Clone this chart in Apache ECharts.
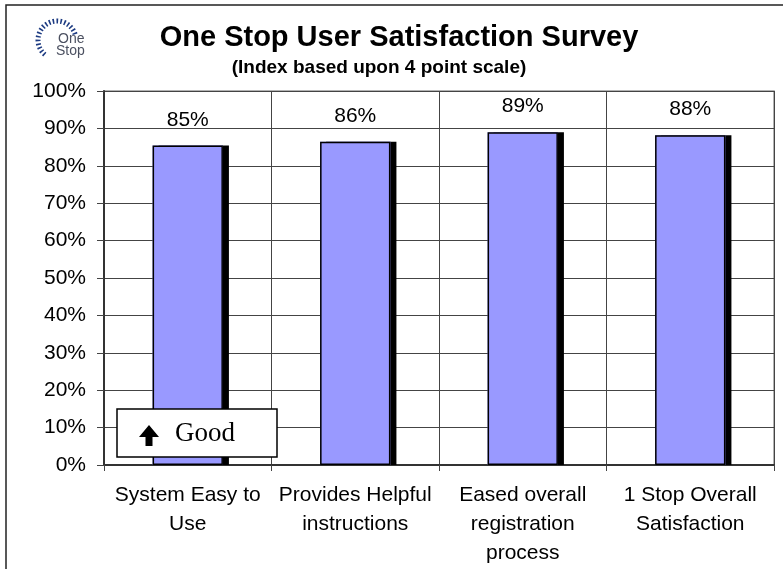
<!DOCTYPE html>
<html>
<head>
<meta charset="utf-8">
<script src="https://cdn.jsdelivr.net/npm/echarts@6/dist/echarts.min.js"></script>
<style>
	html, body { margin: 0; padding: 0; background: #fff; }
	#chart { width: 783px; height: 569px; }
</style>
</head>
<body>
<div id="chart"></div>
<script>
// 数据
var categories = ['System Easy to\nUse', 'Provides Helpful\ninstructions', 'Eased overall\nregistration\nprocess', '1 Stop Overall\nSatisfaction'];
var satisfaction = [85.4, 86.4, 89.0, 88.2];
var titleText = 'One Stop User Satisfaction Survey';
var subtitleText = '(Index based upon 4 point scale)';
var noteText = 'Good';

var FONT = '"Liberation Sans", Arial, sans-serif';

surveyChart();

/**
 * 柱状图
 */
function surveyChart() {
	var myChart = echarts.init(document.getElementById('chart'));
	var option = {
		backgroundColor: '#fff',
		animation: false,
		title: [
			{
				text: titleText,
				left: 394,
				top: 18,
				textAlign: 'center',
				textStyle: { fontFamily: FONT, fontSize: 29, fontWeight: 'bold', color: '#000' }
			},
			{
				text: subtitleText,
				left: 374,
				top: 53,
				textAlign: 'center',
				textStyle: { fontFamily: FONT, fontSize: 19, fontWeight: 'bold', color: '#000' }
			}
		],
		grid: {
			left: 104,
			right: 9,
			top: 91,
			bottom: 104,
			show: true,
			borderColor: '#999',
			borderWidth: 1.5
		},
		xAxis: {
			type: 'category',
			data: categories,
			axisLine: { lineStyle: { color: '#333', width: 2 } },
			axisTick: { show: true, length: 6, lineStyle: { color: '#444' } },
			splitLine: { show: true, lineStyle: { color: '#444', width: 1 } },
			axisLabel: {
				interval: 0,
				margin: 16,
				fontFamily: FONT,
				fontSize: 21,
				lineHeight: 29,
				color: '#000'
			}
		},
		yAxis: {
			type: 'value',
			min: 0,
			max: 100,
			interval: 10,
			axisLine: { show: true, lineStyle: { color: '#333', width: 2 } },
			axisTick: { show: true, length: 7, lineStyle: { color: '#444' } },
			splitLine: { show: true, lineStyle: { color: '#444', width: 1 } },
			axisLabel: {
				formatter: '{value}%',
				margin: 18,
				fontFamily: FONT,
				fontSize: 21,
				color: '#000'
			}
		},
		series: [
			{
				// 阴影
				name: 'shadow',
				type: 'bar',
				barWidth: '42%',
				barGap: '-100%',
				silent: true,
				data: satisfaction,
				itemStyle: {
					color: '#9999FF',
					shadowColor: '#000',
					shadowBlur: 0,
					shadowOffsetX: 6,
					shadowOffsetY: 0
				}
			},
			{
				name: 'Satisfaction',
				type: 'bar',
				barWidth: '42%',
				barGap: '-100%',
				data: satisfaction,
				itemStyle: {
					color: '#9999FF',
					borderColor: '#000',
					borderWidth: 1.5
				},
				label: {
					show: true,
					position: 'top',
					distance: 15,
					fontFamily: FONT,
					fontSize: 21,
					color: '#000',
					formatter: function(p) {
						return Math.round(p.value) + '%';
					}
				}
			}
		],
		graphic: [
			// 外框
			{
				type: 'rect',
				shape: { x: 6, y: 5, width: 800, height: 600 },
				style: { fill: 'none', stroke: '#222', lineWidth: 1.5 },
				silent: true
			},
			// logo
			{
				type: 'arc',
				shape: { cx: 57, cy: 40, r: 19, startAngle: 130 * Math.PI / 180, endAngle: 345 * Math.PI / 180, clockwise: true },
				style: { fill: 'none', stroke: '#1d3b82', lineWidth: 5, lineDash: [1.6, 2.2] },
				silent: true
			},
			{
				type: 'text',
				left: 58, top: 32,
				style: { text: 'One', font: '14px "Liberation Sans Narrow", "Liberation Sans", sans-serif', fill: '#4b5060' },
				silent: true
			},
			{
				type: 'text',
				left: 56, top: 44,
				style: { text: 'Stop', font: '14px "Liberation Sans Narrow", "Liberation Sans", sans-serif', fill: '#4b5060' },
				silent: true
			},
			// Good 标注
			{
				type: 'rect',
				z: 100,
				shape: { x: 117, y: 409, width: 160, height: 48 },
				style: { fill: '#fff', stroke: '#000', lineWidth: 1.5 }
			},
			{
				type: 'polygon',
				z: 101,
				shape: { points: [[139, 437], [149, 425], [159, 437], [152.5, 437], [152.5, 446], [145.5, 446], [145.5, 437]] },
				style: { fill: '#000' }
			},
			{
				type: 'text',
				z: 101,
				x: 175, y: 434,
				style: { text: noteText, font: '27px "Liberation Serif", "Times New Roman", serif', fill: '#000', verticalAlign: 'middle', align: 'left' }
			}
		]
	};
	myChart.setOption(option);
}
</script>
</body>
</html>
